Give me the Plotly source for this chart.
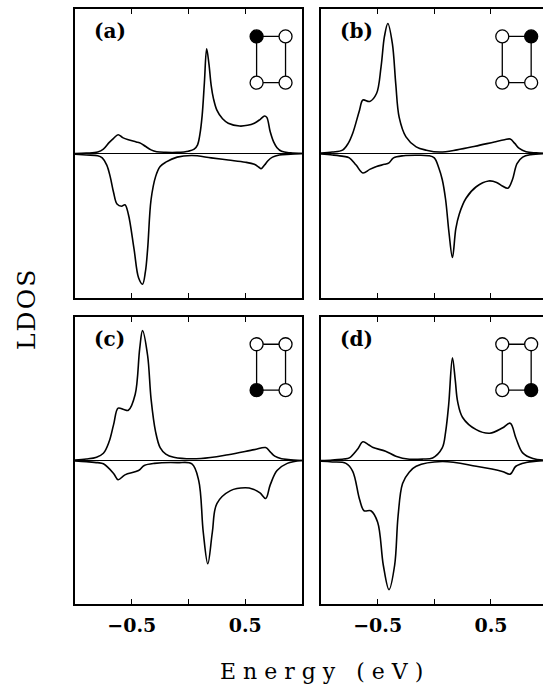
import plotly.graph_objects as go

# ---------------- data (energy in eV, LDOS in arbitrary units) ----------------
E_A_UP = [-1.0, -0.9, -0.8, -0.75, -0.70, -0.66, -0.62, -0.58, -0.53, -0.46, -0.42, -0.38, -0.33, -0.28,
          -0.2, -0.1, 0.0, 0.05, 0.08, 0.10, 0.12, 0.14, 0.16, 0.18, 0.20, 0.22, 0.25, 0.30, 0.35,
          0.45, 0.52, 0.58, 0.63, 0.67, 0.69, 0.72, 0.75, 0.78, 0.82, 0.9, 1.0]
A_UP = [0.0, 0.003, 0.01, 0.03, 0.075, 0.105, 0.13, 0.11, 0.095, 0.08, 0.07, 0.05, 0.025, 0.012,
        0.008, 0.008, 0.016, 0.03, 0.06, 0.13, 0.26, 0.49, 0.725, 0.62, 0.47, 0.38, 0.30, 0.24, 0.21,
        0.19, 0.195, 0.21, 0.235, 0.26, 0.25, 0.15, 0.08, 0.04, 0.015, 0.004, 0.0]

E_A_DN = [-1.0, -0.9, -0.8, -0.76, -0.72, -0.69, -0.66, -0.63, -0.59, -0.56, -0.53, -0.48, -0.44,
          -0.405, -0.38, -0.36, -0.33, -0.29, -0.25, -0.20, -0.1, 0.03, 0.2, 0.35, 0.5, 0.58, 0.62,
          0.64, 0.67, 0.70, 0.74, 0.8, 0.9, 1.0]
A_DN = [-0.005, -0.01, -0.015, -0.03, -0.08, -0.16, -0.27, -0.35, -0.365, -0.355, -0.42, -0.66, -0.86,
        -0.905, -0.82, -0.66, -0.32, -0.16, -0.09, -0.06, -0.025, -0.014, -0.03, -0.045, -0.06, -0.075,
        -0.095, -0.105, -0.08, -0.05, -0.025, -0.01, -0.005, 0.0]

E_B_UP = [-1.0, -0.9, -0.81, -0.76, -0.72, -0.66, -0.63, -0.57, -0.51, -0.47, -0.44, -0.41, -0.37,
          -0.34, -0.31, -0.25, -0.16, -0.07, 0.05, 0.2, 0.36, 0.53, 0.62, 0.67, 0.71, 0.75, 0.81, 0.9, 1.0]
B_UP = [0.003, 0.01, 0.023, 0.07, 0.14, 0.30, 0.37, 0.36, 0.415, 0.6, 0.81, 0.9, 0.76,
        0.48, 0.25, 0.115, 0.046, 0.023, 0.01, 0.025, 0.05, 0.08, 0.095, 0.1, 0.07, 0.035, 0.012, 0.004, 0.0]

E_B_DN = [-1.0, -0.9, -0.8, -0.75, -0.69, -0.63, -0.57, -0.51, -0.44, -0.40, -0.36, -0.27, -0.15,
          -0.05, 0.0, 0.04, 0.07, 0.10, 0.13, 0.16, 0.19, 0.22, 0.28, 0.37, 0.48, 0.55, 0.60, 0.65,
          0.69, 0.73, 0.78, 0.85, 1.0]
B_DN = [-0.003, -0.01, -0.02, -0.03, -0.08, -0.135, -0.11, -0.09, -0.075, -0.065, -0.03, -0.015, -0.012,
        -0.015, -0.03, -0.1, -0.18, -0.32, -0.55, -0.72, -0.52, -0.42, -0.31, -0.23, -0.19, -0.2, -0.225,
        -0.24, -0.18, -0.07, -0.025, -0.008, 0.0]

E_C_UP = [-1.0, -0.9, -0.81, -0.75, -0.70, -0.66, -0.62, -0.57, -0.53, -0.47, -0.43, -0.405, -0.36,
          -0.33, -0.29, -0.25, -0.2, -0.13, 0.11, 0.35, 0.58, 0.68, 0.72, 0.76, 0.82, 0.88, 1.0]
C_UP = [0.003, 0.01, 0.023, 0.05, 0.13, 0.25, 0.365, 0.355, 0.35, 0.46, 0.78, 0.905, 0.73,
        0.43, 0.2, 0.09, 0.045, 0.023, 0.014, 0.04, 0.076, 0.09, 0.06, 0.03, 0.012, 0.007, 0.0]

E_C_DN = [-1.0, -0.9, -0.8, -0.75, -0.66, -0.62, -0.56, -0.44, -0.39, -0.3, -0.1, 0.03, 0.09, 0.13,
          0.17, 0.21, 0.25, 0.37, 0.5, 0.57, 0.63, 0.68, 0.72, 0.78, 0.87, 1.0]
C_DN = [-0.003, -0.008, -0.015, -0.023, -0.09, -0.134, -0.1, -0.07, -0.035, -0.02, -0.015, -0.023, -0.14, -0.5,
        -0.72, -0.5, -0.3, -0.21, -0.19, -0.2, -0.226, -0.265, -0.17, -0.07, -0.02, 0.0]

E_D_UP = [-1.0, -0.9, -0.8, -0.75, -0.68, -0.63, -0.58, -0.54, -0.43, -0.34, -0.22, -0.1, -0.015, 0.07,
          0.1, 0.127, 0.16, 0.185, 0.206, 0.25, 0.37, 0.49, 0.6, 0.67, 0.72, 0.78, 0.87, 1.0]
D_UP = [0.0, 0.004, 0.01, 0.018, 0.076, 0.13, 0.11, 0.09, 0.065, 0.03, 0.009, 0.01, 0.018, 0.088,
        0.2, 0.39, 0.715, 0.56, 0.41, 0.3, 0.215, 0.19, 0.226, 0.26, 0.157, 0.053, 0.014, 0.0]

E_D_DN = [-1.0, -0.9, -0.78, -0.72, -0.66, -0.62, -0.56, -0.5, -0.45, -0.40, -0.35, -0.32, -0.28,
          -0.22, -0.16, 0.07, 0.37, 0.6, 0.67, 0.72, 0.81, 0.9, 1.0]
D_DN = [-0.005, -0.01, -0.02, -0.075, -0.27, -0.35, -0.35, -0.43, -0.73, -0.9, -0.73, -0.39, -0.16,
        -0.08, -0.04, -0.007, -0.04, -0.076, -0.095, -0.04, -0.014, -0.005, 0.0]

PANEL_LABELS = ["(a)", "(b)", "(c)", "(d)"]
FILLED_SITE = [0, 1, 2, 3]   # index of filled site: 0=top-left,1=top-right,2=bottom-left,3=bottom-right
TICK_VALS = [-0.5, 0.0, 0.5]
TICK_TEXT = ["\u22120.5", "", "0.5"]

# ---------------- layout constants ----------------
W, H = 543, 692
XD_L = [75 / W, 302 / W]
XD_R = [321 / W, 1.0]
YD_T = [1 - 298 / H, 1 - 9 / H]
YD_B = [1 - 604 / H, 1 - 317 / H]
X_RANGE_R = [-1.0, -1.0 + (543 - 321) / 113.3]
INSET_X = [0.60, 0.855]
INSET_Y = [0.49, 0.81]
SERIF = "DejaVu Serif"

panels = [
    (E_A_UP, A_UP, E_A_DN, A_DN, XD_L, YD_T, [-1, 1], False),
    (E_B_UP, B_UP, E_B_DN, B_DN, XD_R, YD_T, X_RANGE_R, False),
    (E_C_UP, C_UP, E_C_DN, C_DN, XD_L, YD_B, [-1, 1], True),
    (E_D_UP, D_UP, E_D_DN, D_DN, XD_R, YD_B, X_RANGE_R, True),
]

fig = go.Figure()
layout = dict(
    width=W, height=H, margin=dict(l=0, r=0, t=0, b=0),
    paper_bgcolor="white", plot_bgcolor="white", showlegend=False,
    font=dict(family=SERIF, color="black"),
)
annotations = []
for i, (eu, vu, ed, vd, xd, yd, xr, show_labels) in enumerate(panels):
    n = i + 1
    xa = "x" if n == 1 else f"x{n}"
    ya = "y" if n == 1 else f"y{n}"
    line = dict(color="black", width=1.6, shape="spline", smoothing=1.0)
    fig.add_trace(go.Scatter(x=eu, y=vu, mode="lines", line=line, xaxis=xa, yaxis=ya, hoverinfo="skip"))
    fig.add_trace(go.Scatter(x=ed, y=vd, mode="lines", line=line, xaxis=xa, yaxis=ya, hoverinfo="skip"))
    # inset lattice
    x0, x1 = INSET_X
    y0, y1 = INSET_Y
    fig.add_trace(go.Scatter(x=[x0, x1, x1, x0, x0], y=[y1, y1, y0, y0, y1], mode="lines",
                             line=dict(color="black", width=1.3), xaxis=xa, yaxis=ya, hoverinfo="skip"))
    sx = [x0, x1, x0, x1]
    sy = [y1, y1, y0, y0]
    fills = ["black" if k == FILLED_SITE[i] else "white" for k in range(4)]
    fig.add_trace(go.Scatter(x=sx, y=sy, mode="markers",
                             marker=dict(size=13, color=fills, line=dict(color="black", width=1.3)),
                             xaxis=xa, yaxis=ya, hoverinfo="skip"))
    right = xd is XD_R
    layout[f"xaxis{'' if n == 1 else n}"] = dict(
        domain=xd, range=xr, anchor=ya, showgrid=False, zeroline=False,
        showline=True, linecolor="black", linewidth=1.5, mirror="ticks",
        ticks="inside", ticklen=5, tickwidth=1.2, tickcolor="black",
        tickvals=TICK_VALS, ticktext=TICK_TEXT, showticklabels=show_labels,
        ticklabelstandoff=3,
        tickfont=dict(family=SERIF, size=19, color="black", weight="bold"),
    )
    layout[f"yaxis{'' if n == 1 else n}"] = dict(
        domain=yd, range=[-1, 1], anchor=xa, showgrid=False,
        zeroline=True, zerolinecolor="black", zerolinewidth=1,
        showline=True, linecolor="black", linewidth=1.5, mirror=(not right),
        ticks="", showticklabels=False,
    )
    annotations.append(dict(
        text=f"<b>{PANEL_LABELS[i]}</b>", xref=f"{xa} domain", yref=f"{ya} domain",
        x=0.075, y=0.924, xanchor="left", yanchor="middle", showarrow=False,
        font=dict(family=SERIF, size=20, color="black"),
    ))

annotations.append(dict(
    text='<span style="letter-spacing:7px">Energy (eV)</span>', xref="paper", yref="paper",
    x=325 / W, y=1 - 671 / H, xanchor="center", yanchor="middle", showarrow=False,
    font=dict(family=SERIF, size=22, color="black"),
))
annotations.append(dict(
    text='<span style="letter-spacing:2px">LDOS</span>', xref="paper", yref="paper",
    x=26 / W, y=1 - 309 / H, xanchor="center", yanchor="middle", showarrow=False, textangle=-90,
    font=dict(family=SERIF, size=25, color="black"),
))
layout["annotations"] = annotations
fig.update_layout(**layout)
fig.write_html(
    "out.html",
    config={"displayModeBar": False},
    post_script="document.body.style.margin='0';document.body.style.padding='0';"
                "document.body.style.overflow='hidden';",
)
